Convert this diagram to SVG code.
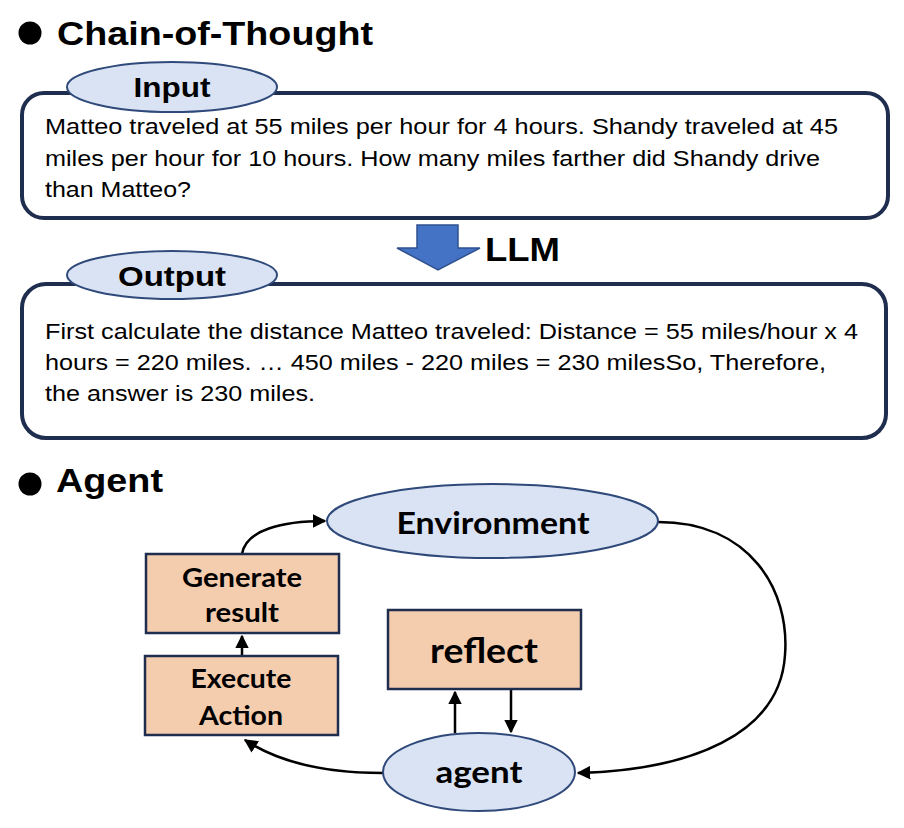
<svg xmlns="http://www.w3.org/2000/svg" width="904" height="828" viewBox="0 0 904 828">
<style>
.title{font-family:"Liberation Sans",Arial,sans-serif;font-weight:bold;font-size:33px;fill:#000}
.body{font-family:"Liberation Sans",Arial,sans-serif;font-size:22px;fill:#000}
.lbl{font-family:"Liberation Sans",Arial,sans-serif;font-weight:bold;font-size:28px;fill:#000;text-anchor:middle}
.frame{fill:#fff;stroke:#1f2d4e;stroke-width:4}
.oval{fill:#dae3f3;stroke:#2f4a7a;stroke-width:2}
.box{fill:#f4ccae;stroke:#1f2d4e;stroke-width:2.5}
.nl{font-family:Lato,"Open Sans",sans-serif;font-weight:bold;fill:#000;text-anchor:middle}
.conn{fill:none;stroke:#000;stroke-width:2.5}
</style>
<defs>
<marker id="ah" viewBox="0 0 10 10" refX="9" refY="5" markerWidth="5.5" markerHeight="5.5" orient="auto" markerUnits="strokeWidth">
<path d="M0,0 L10,5 L0,10 z" fill="#000"/>
</marker>
</defs>
<rect width="904" height="828" fill="#fff"/>

<g id="title-cot">
<circle cx="30" cy="33" r="11.5" fill="#000"/>
<text class="title" x="57" y="45" textLength="316" lengthAdjust="spacingAndGlyphs">Chain-of-Thought</text>
</g>

<g id="input">
<rect class="frame" x="22" y="93" width="866" height="125" rx="22"/>
<ellipse class="oval" cx="172" cy="87" rx="105" ry="25"/>
<text class="lbl" x="172" y="97" textLength="77" lengthAdjust="spacingAndGlyphs">Input</text>
<text class="body" x="45" y="134" textLength="793" lengthAdjust="spacingAndGlyphs">Matteo traveled at 55 miles per hour for 4 hours. Shandy traveled at 45</text>
<text class="body" x="45" y="166" textLength="775" lengthAdjust="spacingAndGlyphs">miles per hour for 10 hours. How many miles farther did Shandy drive</text>
<text class="body" x="45" y="197" textLength="146" lengthAdjust="spacingAndGlyphs">than Matteo?</text>
</g>

<g id="llm">
<path d="M417,225 L458,225 L458,248 L480,248 L438,270 L397,248 L417,248 Z" fill="#4472c4" stroke="#2f528f" stroke-width="1.5"/>
<text class="title" x="485" y="261" font-size="35" textLength="75" lengthAdjust="spacingAndGlyphs">LLM</text>
</g>

<g id="output">
<rect class="frame" x="22" y="284" width="864" height="154" rx="24"/>
<ellipse class="oval" cx="172" cy="275" rx="105" ry="24"/>
<text class="lbl" x="172" y="286" textLength="108" lengthAdjust="spacingAndGlyphs">Output</text>
<text class="body" x="45" y="339" textLength="813" lengthAdjust="spacingAndGlyphs">First calculate the distance Matteo traveled: Distance = 55 miles/hour x 4</text>
<text class="body" x="45" y="370" textLength="781" lengthAdjust="spacingAndGlyphs">hours = 220 miles. … 450 miles - 220 miles = 230 milesSo, Therefore,</text>
<text class="body" x="45" y="401" textLength="270" lengthAdjust="spacingAndGlyphs">the answer is 230 miles.</text>
</g>

<g id="title-agent">
<circle cx="30" cy="484" r="11.5" fill="#000"/>
<text class="title" x="56" y="492" textLength="107" lengthAdjust="spacingAndGlyphs">Agent</text>
</g>

<g id="connectors">
<path class="conn" d="M242,554 C246,530 282,521 325,521" marker-end="url(#ah)"/>
<path class="conn" d="M242,656 L242,636" marker-end="url(#ah)"/>
<path class="conn" d="M455,733 L455,692" marker-end="url(#ah)"/>
<path class="conn" d="M511,689 L511,732" marker-end="url(#ah)"/>
<path class="conn" d="M383,773 C325,773 278,762 245,740" marker-end="url(#ah)"/>
<path class="conn" d="M658,522 C750,522 790,590 785,655 C780,735 690,770 578,773" marker-end="url(#ah)"/>
</g>

<g id="environment">
<ellipse class="oval" cx="492.5" cy="521" rx="165.5" ry="37"/>
<text class="nl" x="493" y="534" font-size="30" textLength="193" lengthAdjust="spacingAndGlyphs">Environment</text>
</g>

<g id="generate-result">
<rect class="box" x="146" y="554" width="193" height="79"/>
<text class="nl" x="242" y="587" font-size="26" textLength="120" lengthAdjust="spacingAndGlyphs">Generate</text>
<text class="nl" x="242" y="622" font-size="26" textLength="74" lengthAdjust="spacingAndGlyphs">result</text>
</g>

<g id="execute-action">
<rect class="box" x="145" y="656" width="193" height="79"/>
<text class="nl" x="241" y="688" font-size="26" textLength="101" lengthAdjust="spacingAndGlyphs">Execute</text>
<text class="nl" x="241" y="725" font-size="26" textLength="84" lengthAdjust="spacingAndGlyphs">Action</text>
</g>

<g id="reflect">
<rect class="box" x="388" y="610" width="193" height="79"/>
<text class="nl" x="484" y="663" font-size="34" textLength="108" lengthAdjust="spacingAndGlyphs">reflect</text>
</g>

<g id="agent">
<ellipse class="oval" cx="479" cy="772" rx="96" ry="39"/>
<text class="nl" x="479" y="783" font-size="30" textLength="87" lengthAdjust="spacingAndGlyphs">agent</text>
</g>
</svg>
